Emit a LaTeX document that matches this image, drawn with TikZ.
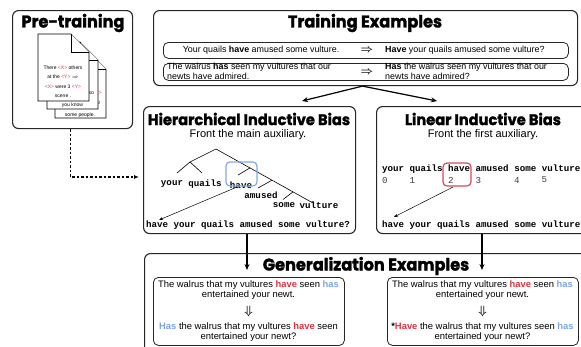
\documentclass[tikz,border=0pt]{standalone}
\usepackage{amsmath}
\usepackage{fontspec}
\setmainfont{Liberation Sans}
\newfontfamily\titlefont{Poppins}[BoldFeatures={FakeBold=1.6, FakeStretch=0.95}]
\newfontfamily\codefont{Liberation Mono}
\usetikzlibrary{arrows.meta}
\definecolor{hred}{HTML}{E5323E}
\definecolor{hblue}{HTML}{7CA6E8}
\definecolor{boxred}{HTML}{D64A5C}
\definecolor{boxblue}{HTML}{82AAEA}
\tikzset{
 bigbox/.style={draw=black!85, line width=1.1pt, rounded corners=6pt, inner sep=0pt, anchor=north west, fill=white},
 rowbox/.style={draw=black!85, line width=0.8pt, rounded corners=5pt, inner sep=0pt, anchor=north west},
 ttl/.style={font=\titlefont\bfseries\fontsize{17}{19}\selectfont, inner sep=0pt},
 ttlsmall/.style={font=\titlefont\bfseries\fontsize{15.4}{17}\selectfont, inner sep=0pt},
 subttl/.style={font=\fontsize{11}{13}\selectfont, inner sep=0pt},
 txt/.style={font=\fontsize{8.9}{9.5}\selectfont, inner sep=0pt},
 gtxt/.style={font=\fontsize{9.4}{10}\selectfont, inner sep=0pt},
 code/.style={font=\codefont\bfseries\fontsize{9.17}{10}\selectfont, inner sep=0pt},
 num/.style={font=\codefont\fontsize{9.17}{10}\selectfont, inner sep=0pt, text=black!75},
 doc/.style={fill=white, draw=black, line width=0.6pt},
 doctxt/.style={font=\fontsize{5}{6}\selectfont, inner sep=0pt},
 mainarrow/.style={line width=1.2pt, -{Stealth[length=6pt,width=5pt]}},
 thinarrow/.style={line width=0.5pt, -{Stealth[length=4pt,width=3pt]}},
 dotarrow/.style={line width=1.3pt, dash pattern=on 2.5pt off 2pt, -{Latex[length=5pt,width=4pt]}},
 tree/.style={line width=0.6pt},
 hl/.style={rounded corners=4pt, line width=1.2pt},
 bigarr/.style={font=\fontsize{11}{11}\selectfont, inner sep=0pt},
}
\newcommand\docpage[4]{%
 \filldraw[doc] (#1,#2) -- (#3-18,#2) -- (#3,#2+18) -- (#3,#4) -- (#1,#4) -- cycle;
 \draw[doc] (#3-18,#2) -- (#3-18,#2+18) -- (#3,#2+18);}
\begin{document}
\begin{tikzpicture}[x=1pt,y=-1pt]
\useasboundingbox (0,0) rectangle (581,346);
\clip (0,0) rectangle (581,346);
% ---------- Pre-training
\node[bigbox, minimum width=120pt, minimum height=118pt] (pre) at (12,10) {};
\node[ttl] (pretitle) at (73,23) {Pre-training};
\docpage{55}{51}{106}{118}
\node[doctxt, text=hred, anchor=east] (d3a) at (102,93) {<Y>};
\node[doctxt, anchor=east] (d3b) at (100.5,103) {near};
\node[doctxt] (d3c) at (80,115) {some people.};
\docpage{47}{42}{98}{109}
\node[doctxt, anchor=east] (d2a) at (94,93) {so};
\node[doctxt] (d2b) at (72.5,105) {you know};
\docpage{38}{34}{89}{101}
\node[doctxt] (d1a) at (63,68) {There \textcolor{hred}{<X>} others};
\node[doctxt] (d1b) at (63,77) {at the \textcolor{hred}{<Y>} $\Rightarrow$};
\node[doctxt] (d1c) at (63,87) {\textcolor{hred}{<X>} were 3 \textcolor{hred}{<Y>}};
\node[doctxt] (d1d) at (63,96) {scene .};
% ---------- Training examples
\node[bigbox, minimum width=424pt, minimum height=75pt] (train) at (153,10) {};
\node[ttl] (traintitle) at (365,23) {Training Examples};
\node[rowbox, minimum width=405pt, minimum height=16pt] (row1) at (163,42) {};
\node[rowbox, minimum width=405pt, minimum height=17pt] (row2) at (163,63) {};
\node[txt] (r1l) at (261,50) {Your quails \textbf{have} amused some vulture.};
\node[bigarr] (r1a) at (367,50) {$\boldsymbol{\Rightarrow}$};
\node[txt, anchor=west] (r1r) at (385,50) {\textbf{Have} your quails amused some vulture?};
\node[txt, anchor=west, align=left] (r2l) at (167,71.5) {The walrus \textbf{has} seen my vultures that our\\newts have admired.};
\node[bigarr] (r2a) at (367,72) {$\boldsymbol{\Rightarrow}$};
\node[txt, anchor=west, align=left] (r2r) at (385,71.5) {\textbf{Has} the walrus seen my vultures that our\\newts have admired?};
% ---------- Hierarchical
\node[bigbox, minimum width=212pt, minimum height=127pt] (hier) at (143,106) {};
\node[ttlsmall] (hiertitle) at (249,119) {Hierarchical Inductive Bias};
\node[subttl] (hiersub) at (248,135) {Front the main auxiliary.};
\coordinate (root) at (216,149);
\coordinate (n1) at (190,162);
\coordinate (mend) at (313,203);
\draw[tree] (root) -- (n1) -- (177,173);
\draw[tree] (n1) -- (202,173);
\draw[tree] (root) -- (mend);
\draw[tree] (250,167.9) -- (238,175);
\draw[tree] (272,180.2) -- (258,188);
\draw[tree] (293,191.9) -- (283,199.5);
\node[code] (wyour) at (172,184) {your};
\node[code] (wquails) at (205,184) {quails};
\node[code] (whave) at (241,185.5) {have};
\node[code] (wamused) at (261,195) {amused};
\node[code] (wsome) at (284,205) {some};
\node[code] (wvulture) at (319,205) {vulture};
\draw[hl, draw=boxblue] (226,162) rectangle (257,186);
\node[code] (hout) at (248,225) {have your quails amused some vulture?};
\coordinate (hstart) at (237,187);
\coordinate (hend) at (159,220);
\draw[thinarrow] (hstart) -- (hend);
% ---------- Linear
\node[bigbox, minimum width=250pt, minimum height=127pt] (lin) at (376,106) {};
\node[ttlsmall] (lintitle) at (483,119) {Linear Inductive Bias};
\node[subttl] (linsub) at (483,135) {Front the first auxiliary.};
\node[code, anchor=west] (lwords) at (382,169) {your quails have amused some vulture.};
\foreach \i/\c in {0/0,1/5,2/12,3/17,4/24,5/29}{
  \node[num] (n\i) at ({382+\c*5.5+2.75},180) {\i};
}
\draw[hl, draw=boxred] (443,163) rectangle (471,186);
\node[code, anchor=west] (lout) at (382,225) {have your quails amused some vulture?};
\coordinate (lstart) at (453,187);
\coordinate (lend) at (394,217);
\draw[thinarrow] (lstart) -- (lend);
% ---------- Generalization
\node[bigbox, minimum width=460pt, minimum height=120pt] (gen) at (144,253) {};
\node[ttl] (gentitle) at (366,266) {Generalization Examples};
\node[rowbox, minimum width=191pt, minimum height=68pt] (g1) at (153,277) {};
\node[rowbox, minimum width=191pt, minimum height=68pt] (g2) at (387,277) {};
\node[gtxt] (g1a) at (248.5,285) {The walrus that my vultures \textbf{\textcolor{hred}{have}} seen \textbf{\textcolor{hblue}{has}}};
\node[gtxt] (g1b) at (248.5,295) {entertained your newt.};
\node[gtxt, font=\fontsize{13}{13}\selectfont] (g1c) at (248.5,311) {$\boldsymbol{\Downarrow}$};
\node[gtxt] (g1d) at (248.5,327) {\textbf{\textcolor{hblue}{Has}} the walrus that my vultures \textbf{\textcolor{hred}{have}} seen};
\node[gtxt] (g1e) at (248.5,337) {entertained your newt?};
\node[gtxt] (g2a) at (482.5,285) {The walrus that my vultures \textbf{\textcolor{hred}{have}} seen \textbf{\textcolor{hblue}{has}}};
\node[gtxt] (g2b) at (482.5,295) {entertained your newt.};
\node[gtxt, font=\fontsize{13}{13}\selectfont] (g2c) at (482.5,311) {$\boldsymbol{\Downarrow}$};
\node[gtxt] (g2d) at (482.5,327) {\textbf{*\textcolor{hred}{Have}} the walrus that my vultures seen \textbf{\textcolor{hblue}{has}}};
\node[gtxt] (g2e) at (482.5,337) {entertained your newt?};
% ---------- connectors
\coordinate (hin) at (302,101);
\coordinate (lin2) at (437,101);
\draw[mainarrow] ([xshift=-3pt]train.south) -- (hin);
\draw[mainarrow] ([xshift=-3pt]train.south) -- (lin2);
\coordinate (hv) at (247,270);
\coordinate (lv) at (482,270);
\draw[mainarrow] (hier.south -| hv) -- (hv);
\draw[mainarrow] (lin.south -| lv) -- (lv);
\coordinate (dotend) at (139,177);
\draw[dotarrow] ([xshift=-2pt]pre.south) |- (dotend);
\end{tikzpicture}
\end{document}
